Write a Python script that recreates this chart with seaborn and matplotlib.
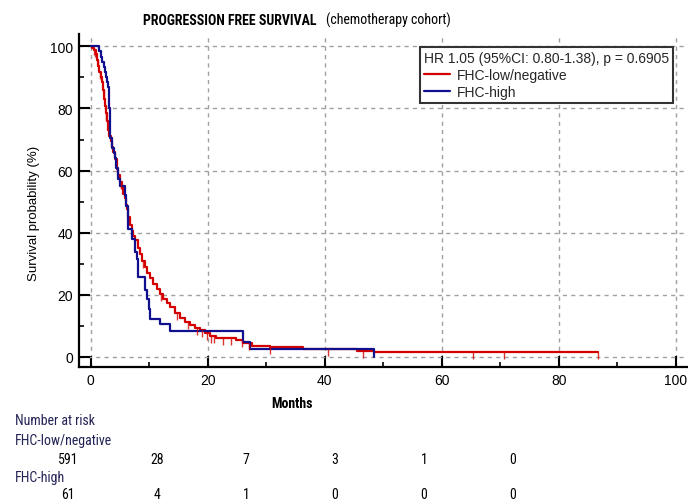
import numpy as np
import pandas as pd
import matplotlib
matplotlib.use("Agg")
import matplotlib.pyplot as plt
from matplotlib.lines import Line2D
from matplotlib.ticker import MultipleLocator
import seaborn as sns

# Kaplan-Meier step points: time (months) and survival (%) after each step
low_time = [0, 0.3, 0.6, 0.9, 1.1, 1.3, 1.5, 1.7, 1.9, 2.1, 2.3, 2.45, 2.6, 2.8,
            3.0, 3.2, 3.4, 3.6, 3.8, 4.15, 4.45, 4.7, 5.0, 5.3, 5.6, 5.86, 6.0,
            6.15, 6.4, 6.7, 7.0, 7.3, 7.6, 8.0, 8.4, 8.8, 9.3, 9.7, 10.1, 10.6,
            11.3, 11.8, 12.4, 13.0, 13.6, 14.4, 15.3, 16.2, 17.0, 17.8, 18.7,
            19.5, 20.4, 21.5, 24.9, 26.1, 27.5, 30.6, 36.3, 45.5, 48.5, 86.7]
low_surv = [100, 99.5, 98.8, 97.5, 95.5, 93.7, 91.8, 90.0, 88.4, 86.0, 83.0, 80.9,
            78.5, 76.0, 73.0, 71.0, 69.5, 67.5, 66.0, 63.7, 60.5, 58.5, 56.2, 54.4,
            52.5, 51.0, 49.0, 47.6, 45.0, 42.5, 40.5, 39.0, 37.6, 35.0, 33.0, 31.0,
            29.0, 27.0, 25.3, 23.5, 21.8, 20.2, 18.6, 17.2, 15.9, 14.0, 12.5, 11.2,
            10.3, 9.4, 8.6, 7.5, 6.8, 6.1, 5.5, 4.4, 3.6, 3.0, 2.6, 2.0, 1.5, 1.5]
low_censor = [0.5, 0.8, 1.2, 1.6, 2.2, 2.7, 5.2, 9.0, 12.0, 14.8, 16.6, 18.2,
              19.0, 19.8, 20.5, 21.0, 22.7, 24.0, 25.8, 27.0, 30.6, 40.6, 46.5,
              65.3, 70.6, 86.7]

high_time = [0, 1.5, 1.8, 2.0, 2.2, 2.4, 2.6, 2.8, 3.0, 3.1, 3.2, 3.3, 3.6, 3.9,
             4.1, 4.4, 4.7, 5.0, 5.9, 6.1, 6.3, 6.45, 7.0, 7.5, 7.85, 8.1, 9.3,
             9.6, 10.0, 10.2, 11.9, 13.5, 26.1, 27.2, 48.5]
high_surv = [100, 98.4, 96.7, 95.1, 93.4, 91.8, 90.2, 88.5, 86.9, 83.6, 80.3,
             70.5, 67.2, 65.6, 63.9, 60.7, 57.4, 55.1, 52.0, 48.6, 45.0, 41.1,
             37.9, 33.6, 31.5, 25.6, 21.5, 18.6, 15.4, 12.1, 10.5, 8.4, 4.6, 2.5, 0]

groups = ["FHC-low/negative", "FHC-high"]
colors = ["#d40000", "#10108e"]
hr_text = "HR 1.05 (95%CI: 0.80-1.38), p = 0.6905"

risk_times = [0, 20, 40, 60, 80, 100]
risk_low = [591, 28, 7, 3, 1, 0]
risk_high = [61, 4, 1, 0, 0, 0]

sns.set_theme(style="white")
plt.rcParams["font.family"] = ["Liberation Sans", "DejaVu Sans"]
narrow = ["Liberation Sans Narrow", "Roboto Condensed", "DejaVu Sans Condensed",
          "Liberation Sans"]

W, H = 688, 502
fig = plt.figure(figsize=(W / 100, H / 100), dpi=100)
ax = fig.add_axes([79 / W, 1 - 368 / H, 608.4 / W, 333 / H])


def fx(px):
    return px / W


def fy(py):
    return 1 - py / H


rows = []
for g, t, s in [(groups[0], low_time, low_surv), (groups[1], high_time, high_surv)]:
    rows += [{"group": g, "time": ti, "surv": si} for ti, si in zip(t, s)]
df = pd.DataFrame(rows)

sns.lineplot(data=df, x="time", y="surv", hue="group", hue_order=groups,
             palette=dict(zip(groups, colors)), estimator=None, sort=False,
             drawstyle="steps-post", lw=1.6, legend=False, ax=ax)

# censored observations as small downward ticks on the curve
lt = np.asarray(low_time)
ls = np.asarray(low_surv)
cen = np.asarray(low_censor)
cen_y = ls[np.searchsorted(lt, cen, side="right") - 1]
ax.plot(cen, cen_y, linestyle="none", marker=3, markersize=5, mew=1.0,
        color=colors[0], alpha=0.8)

ax.set_xlim(-2, 102)
ax.set_ylim(-3.3, 104)
ax.xaxis.set_major_locator(MultipleLocator(20))
ax.xaxis.set_minor_locator(MultipleLocator(10))
ax.yaxis.set_major_locator(MultipleLocator(20))
ax.yaxis.set_minor_locator(MultipleLocator(10))
ax.tick_params(which="major", direction="in", length=8, width=1.5, color="black",
               labelsize=10, pad=4.5, labelcolor="black")
ax.tick_params(which="minor", direction="in", length=3.6, width=1.2, color="black")
ax.tick_params(axis="x", which="both", bottom=True, top=False)
ax.tick_params(axis="y", which="both", left=True, right=False)
ax.grid(True, which="major", color="#a0a0a0", linestyle=(0, (3, 3)), lw=1.0)
ax.set_axisbelow(True)
for side in ["top", "right"]:
    ax.spines[side].set_visible(False)
for side in ["left", "bottom"]:
    ax.spines[side].set_color("black")
    ax.spines[side].set_linewidth(1.6)

ax.set_xlabel("")
ax.set_ylabel("Survival probability (%)", fontsize=9.5, color="black")
ax.yaxis.set_label_coords(-0.064, 0.465)

handles = [Line2D([], [], color=c, lw=1.6) for c in colors]
leg = ax.legend(handles, groups, title=hr_text, loc="upper right",
                bbox_to_anchor=(0.9763, 0.960), borderaxespad=0, fontsize=10,
                title_fontsize=10, frameon=True, fancybox=False, alignment="left",
                handlelength=1.9, handletextpad=0.5, labelspacing=0.2,
                borderpad=0.3, framealpha=1)
leg.get_frame().set_edgecolor("#333333")
leg.get_frame().set_linewidth(1.5)

# title: bold main part followed by a plain subtitle
t1 = fig.text(fx(143), fy(25), "PROGRESSION FREE SURVIVAL", fontsize=10,
              fontweight="bold", family=narrow, ha="left", va="baseline",
              color="black")
fig.canvas.draw()
bb = t1.get_window_extent()
fig.text((bb.x1 + 9) / W, fy(25), "(chemotherapy cohort)", fontsize=10,
         family=narrow, ha="left", va="baseline", color="black")

fig.text(fx(292), fy(408), "Months", fontsize=10, fontweight="bold",
         family=narrow, ha="center", va="baseline", color="black")

# number-at-risk table
label_color = "#222255"
fig.text(fx(15), fy(425), "Number at risk", fontsize=10, family=narrow,
         ha="left", va="baseline", color=label_color)
fig.text(fx(15), fy(445), groups[0], fontsize=10, family=narrow,
         ha="left", va="baseline", color=label_color)
fig.text(fx(15), fy(482), groups[1], fontsize=10, family=narrow,
         ha="left", va="baseline", color=label_color)
col0, col_step = 68, 89
for i, _ in enumerate(risk_times):
    fig.text(fx(col0 + col_step * i), fy(464), str(risk_low[i]), fontsize=10,
             family=narrow, ha="center", va="baseline", color="black")
    fig.text(fx(col0 + col_step * i), fy(499), str(risk_high[i]), fontsize=10,
             family=narrow, ha="center", va="baseline", color="black")

fig.savefig("out.png", dpi=100)
